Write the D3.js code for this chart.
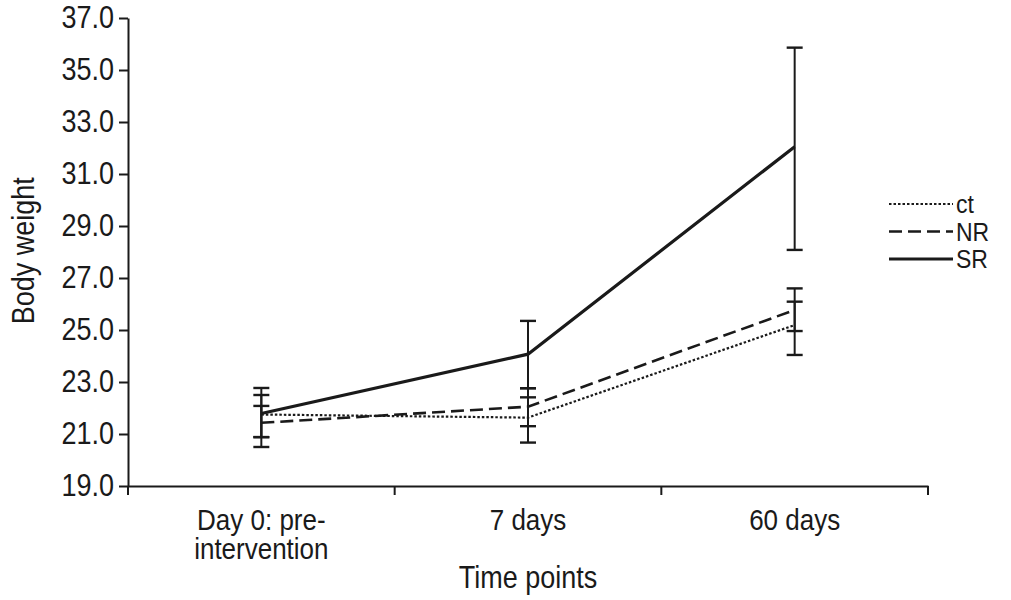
<!DOCTYPE html>
<html>
<head>
<meta charset="utf-8">
<script src="https://cdn.jsdelivr.net/npm/d3@7"></script>
<style>
  body { margin: 0; background: #fff; }
  svg { display: block; }
  text { font-family: "Liberation Sans", Arial, sans-serif; fill: #1a1a1a; }
</style>
</head>
<body>
<svg id="chart" width="1011" height="600"></svg>
<script>
// categories and tick labels
const timePoints = ["Day 0: pre-intervention", "7 days", "60 days"]
const timeLabels = [["Day 0: pre-", "intervention"], ["7 days"], ["60 days"]]
const yTicks = [19, 21, 23, 25, 27, 29, 31, 33, 35, 37]

// series values (mean, upper and lower end of error bar)
const seriesNames = ["ct", "NR", "SR"]
const ctMean = [21.75, 21.63, 25.19]
const ctUpper = [22.08, 22.41, 26.09]
const ctLower = [20.88, 20.67, 24.04]
const nrMean = [21.43, 22.05, 25.77]
const nrUpper = [22.5, 22.76, 26.6]
const nrLower = [20.5, 21.3, 24.96]
const srMean = [21.79, 24.07, 32.05]
const srUpper = [22.77, 25.35, 35.86]
const srLower = [20.88, 22.76, 28.08]

const ink = "#1a1a1a"
const stretch = "scale(1, 1.13)" // the source font is taller than it is wide
const styles = {
  ct: {width: 2.2, dash: "2.5,2"},
  NR: {width: 2.6, dash: "13,6"},
  SR: {width: 3.2, dash: null}
}

const series = [
  {key: "ct", mean: ctMean, upper: ctUpper, lower: ctLower},
  {key: "NR", mean: nrMean, upper: nrUpper, lower: nrLower},
  {key: "SR", mean: srMean, upper: srUpper, lower: srLower}
]

const margins = {left: 128, top: 18, right: 83, bottom: 114}
const width = 1011 - margins.left - margins.right
const height = 600 - margins.top - margins.bottom

const svg = d3.select("#chart")
const g = svg.append("g")
  .attr("transform", `translate(${margins.left}, ${margins.top})`)

const x = d3.scaleBand().domain(timePoints).range([0, width])
const y = d3.scaleLinear().domain([19, 37]).range([height, 0])
const cx = d => x(d) + x.bandwidth() / 2

// y axis
const yAxis = g.append("g")
  .call(d3.axisLeft(y).tickValues(yTicks).tickFormat(d3.format(".1f")).tickSize(9).tickSizeOuter(0))
yAxis.select(".domain").attr("stroke", ink).attr("stroke-width", 2)
yAxis.selectAll(".tick line").attr("stroke", ink).attr("stroke-width", 2)
yAxis.selectAll(".tick text")
  .attr("x", -14)
  .attr("font-size", 27)
  .attr("fill", ink)
  .attr("transform", stretch)

// x axis: line plus ticks on band boundaries
const xAxis = g.append("g").attr("transform", `translate(0, ${height})`)
  .call(d3.axisBottom(x).tickSize(0).tickSizeOuter(0))
xAxis.select(".domain").attr("stroke", ink).attr("stroke-width", 2)
xAxis.selectAll(".tick text").remove()
const bounds = timePoints.map(d => x(d)).concat([x.range()[1]])
xAxis.selectAll("line.bound")
  .data(bounds)
  .enter()
  .append("line")
  .attr("class", "bound")
  .attr("x1", d => d)
  .attr("x2", d => d)
  .attr("y1", 0)
  .attr("y2", 9)
  .attr("stroke", ink)
  .attr("stroke-width", 2)

// category labels, one text per line
timePoints.forEach((t, i) => {
  g.append("g")
    .selectAll("text")
    .data(timeLabels[i])
    .enter()
    .append("text")
    .attr("text-anchor", "middle")
    .attr("font-size", 26)
    .attr("transform", (d, j) => `translate(${cx(t)}, ${height + 44 + j * 29}) ${stretch}`)
    .text(d => d)
})

// axis titles
g.append("text")
  .attr("text-anchor", "middle")
  .attr("font-size", 27)
  .attr("transform", `translate(${width / 2}, ${height + 102}) ${stretch}`)
  .text("Time points")

g.append("text")
  .attr("text-anchor", "middle")
  .attr("font-size", 27)
  .attr("transform", `translate(${-94}, ${y(28.05)}) rotate(-90) ${stretch}`)
  .text("Body weight")

// error bars
series.forEach(s => {
  const eb = g.append("g").attr("class", `err-${s.key}`)
  timePoints.forEach((t, i) => {
    eb.append("line")
      .attr("x1", cx(t)).attr("x2", cx(t))
      .attr("y1", y(s.upper[i])).attr("y2", y(s.lower[i]))
      .attr("stroke", ink).attr("stroke-width", 2)
    ;[s.upper[i], s.lower[i]].forEach(v => {
      eb.append("line")
        .attr("x1", cx(t) - 8).attr("x2", cx(t) + 8)
        .attr("y1", y(v)).attr("y2", y(v))
        .attr("stroke", ink).attr("stroke-width", 2.4)
    })
  })
})

// lines
const line = d3.line()
  .x((d, i) => cx(timePoints[i]))
  .y(d => y(d))

g.selectAll("path.series")
  .data(series)
  .enter()
  .append("path")
  .attr("class", "series")
  .attr("fill", "none")
  .attr("stroke", ink)
  .attr("stroke-width", d => styles[d.key].width)
  .attr("stroke-dasharray", d => styles[d.key].dash)
  .attr("d", d => line(d.mean))

// legend
const legend = svg.append("g").attr("transform", "translate(889, 204)")
const rows = legend.selectAll("g")
  .data(seriesNames)
  .enter()
  .append("g")
  .attr("transform", (d, i) => `translate(0, ${i * 27.5})`)
rows.append("line")
  .attr("x1", 0).attr("x2", 64)
  .attr("stroke", ink)
  .attr("stroke-width", d => styles[d].width)
  .attr("stroke-dasharray", d => styles[d].dash)
rows.append("text")
  .attr("x", 67)
  .attr("dy", "0.36em")
  .attr("font-size", 23)
  .attr("transform", stretch)
  .text(d => d)
</script>
</body>
</html>
